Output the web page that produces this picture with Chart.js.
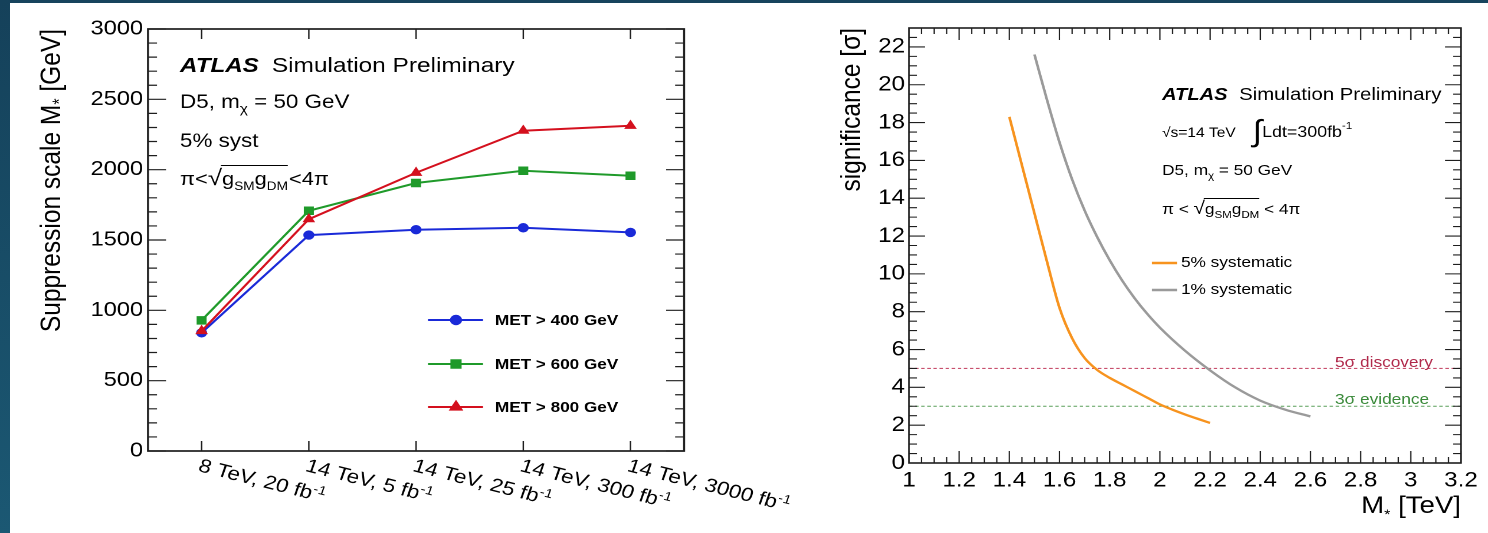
<!DOCTYPE html>
<html><head><meta charset="utf-8">
<script src="https://cdn.jsdelivr.net/npm/chart.js@4.4.1/dist/chart.umd.min.js"></script>
<style>
html,body{margin:0;padding:0;background:#fff;}
body{width:1488px;height:533px;overflow:hidden;position:relative;}
.wrap{position:absolute;top:0;height:533px;transform-origin:0 0;}
.band{position:absolute;z-index:5}
</style></head><body>
<div class="band" style="left:0;top:0;width:1488px;height:3px;background:#17445d"></div>
<div class="band" style="left:0;top:0;width:10px;height:533px;background:linear-gradient(#15415a,#1b5873)"></div>
<div id="wl" class="wrap"><canvas id="cl"></canvas></div>
<div id="wr" class="wrap"><canvas id="cr"></canvas></div>
<script>
// ---------------- data: left chart ----------------
const categories = ["8 TeV, 20 fb⁻¹", "14 TeV, 5 fb⁻¹", "14 TeV, 25 fb⁻¹", "14 TeV, 300 fb⁻¹", "14 TeV, 3000 fb⁻¹"];
const met400 = [840, 1535, 1573, 1587, 1554];
const met600 = [929, 1708, 1905, 1992, 1957];
const met800 = [853, 1648, 1978, 2277, 2312];
const seriesNames = ["MET > 400 GeV", "MET > 600 GeV", "MET > 800 GeV"];
const leftYMin = 0, leftYMax = 3000, leftYStep = 500, leftYMinor = 100;

// ---------------- data: right chart ----------------
const massSyst5 = [1.40, 1.45, 1.50, 1.55, 1.60, 1.65, 1.70, 1.75, 1.80, 1.85, 1.90, 1.95, 2.00, 2.05, 2.10, 2.15, 2.20];
const signifSyst5 = [18.3, 15.75, 13.2, 10.65, 8.2, 6.6, 5.55, 4.92, 4.5, 4.15, 3.8, 3.45, 3.1, 2.82, 2.57, 2.34, 2.12];
const massSyst1 = [1.50, 1.55, 1.60, 1.65, 1.70, 1.75, 1.80, 1.85, 1.90, 1.95, 2.00, 2.10, 2.20, 2.30, 2.40, 2.50, 2.60];
const signifSyst1 = [21.6, 19.2, 16.95, 15.0, 13.35, 11.95, 10.72, 9.64, 8.7, 7.88, 7.16, 5.94, 4.9, 4.0, 3.3, 2.82, 2.46];
const discoveryLevel = 5, evidenceLevel = 3;
const rightXMin = 1, rightXMax = 3.2, rightXStep = 0.2, rightXMinor = 0.05;
const rightYMin = 0, rightYMax = 23, rightYStep = 2, rightYMinor = 0.5;

// ---------------- layout helpers ----------------
const KL = 1.18, KR = 1.15;          // horizontal stretch of each picture
const LW = 820, RW = 728, H = 533;
const FONT = "'Liberation Sans', Arial, Helvetica, sans-serif";
const f = (s, st) => (st ? st + ' ' : '') + s + 'px ' + FONT;
const LX = X => X / KL;
const RX = X => (X - 760) / KR;

function drawRich(ctx, parts, x, y, align) {
  let total = 0;
  parts.forEach(p => { ctx.font = p.font; p.w = (p.gap || 0) + ctx.measureText(p.t).width; total += p.w; });
  let cx = align === 'right' ? x - total : (align === 'center' ? x - total / 2 : x);
  const pos = [];
  parts.forEach(p => {
    ctx.font = p.font;
    const sx = cx + (p.gap || 0);
    if (p.color) ctx.fillStyle = p.color;
    ctx.fillText(p.t, sx, y + (p.dy || 0));
    pos.push([sx, cx + p.w]);
    cx += p.w;
  });
  return pos;
}

function setupCanvas(wrapId, canvasId, left, w, k) {
  const wrap = document.getElementById(wrapId);
  wrap.style.left = left + 'px';
  wrap.style.width = (w / k) + 'px';
  wrap.style.transform = 'scaleX(' + k + ')';
  const c = document.getElementById(canvasId);
  c.width = Math.round(w / k); c.height = H;
  c.style.width = Math.round(w / k) + 'px'; c.style.height = H + 'px';
  return c;
}

// ---------------- left chart ----------------
const colors = ['#1a2ad8', '#1f9a2a', '#d4101e'];
const styles = ['circle', 'rect', 'triangle'];
const radii = [4.2, 5.3, 5.2];
const leftSeries = [met400, met600, met800];

const leftDecor = {
  id: 'leftDecor',
  afterDatasetsDraw(chart) {
    const {ctx, chartArea: a, scales: {x, y}} = chart;
    ctx.save();
    ctx.strokeStyle = '#1e1e1e';
    ctx.lineWidth = 1.2;
    ctx.beginPath();
    for (let v = leftYMin; v <= leftYMax; v += leftYMinor) {
      const py = y.getPixelForValue(v);
      const len = (v % leftYStep === 0 ? 18 : 9) / KL;
      ctx.moveTo(a.left, py); ctx.lineTo(a.left + len, py);
      ctx.moveTo(a.right, py); ctx.lineTo(a.right - len, py);
    }
    categories.forEach((c, i) => {
      const px = x.getPixelForValue(i);
      ctx.moveTo(px, a.bottom); ctx.lineTo(px, a.bottom - 10);
      ctx.moveTo(px, a.top); ctx.lineTo(px, a.top + 10);
    });
    ctx.stroke();
    ctx.lineWidth = 1.7;
    ctx.strokeRect(a.left, a.top, a.right - a.left, a.bottom - a.top);

    // category labels (rotated)
    ctx.fillStyle = '#000';
    ctx.textBaseline = 'alphabetic';
    const ang = Math.atan(0.25 * KL);
    categories.forEach((c, i) => {
      const px = x.getPixelForValue(i);
      ctx.save();
      ctx.translate(px + 0.5 / KL, 457);
      ctx.rotate(ang);
      drawRich(ctx, [{t: c.replace('⁻¹', ''), font: f(19)}, {t: '-1', font: f(12.5), dy: -7}], 0, 14.5, 'left');
      ctx.restore();
    });

    // legend
    const rows = [320, 364, 407];
    rows.forEach((ry, i) => {
      ctx.strokeStyle = colors[i]; ctx.fillStyle = colors[i]; ctx.lineWidth = 2;
      ctx.beginPath(); ctx.moveTo(LX(428), ry); ctx.lineTo(LX(483), ry); ctx.stroke();
      Chart.helpers.drawPoint(ctx, {pointStyle: styles[i], radius: radii[i], rotation: 0, borderWidth: 1}, LX(456), ry);
      ctx.fillStyle = '#000'; ctx.font = f(14.5, 'bold'); ctx.textBaseline = 'middle';
      ctx.fillText(seriesNames[i], LX(495), ry + 1);
    });

    // texts
    ctx.fillStyle = '#000'; ctx.textBaseline = 'alphabetic';
    drawRich(ctx, [{t: 'ATLAS', font: f(20.5, 'italic bold')}, {t: 'Simulation Preliminary', font: f(20.7), gap: 11}], LX(180), 72);
    drawRich(ctx, [{t: 'D5, m', font: f(19)}, {t: 'χ', font: f(13), dy: 5}, {t: ' = 50 GeV', font: f(19)}], LX(180), 108);
    drawRich(ctx, [{t: '5% syst', font: f(19)}], LX(180), 147);
    const p = drawRich(ctx, [{t: 'π<', font: f(18.5)}, {t: '√', font: f(22)}, {t: 'g', font: f(18.5)},
      {t: 'SM', font: f(11.5), dy: 5}, {t: 'g', font: f(18.5)}, {t: 'DM', font: f(11.5), dy: 5}, {t: '<4π', font: f(18.5), gap: 1}], LX(180), 185);
    ctx.strokeStyle = '#000'; ctx.lineWidth = 1;
    ctx.beginPath(); ctx.moveTo(p[1][1] - 1, 165.5); ctx.lineTo(p[5][1], 165.5); ctx.stroke();

    // y title
    ctx.save();
    ctx.translate(LX(52), 29); ctx.rotate(-Math.PI / 2);
    ctx.textBaseline = 'middle';
    drawRich(ctx, [{t: 'Suppression scale M', font: f(24.5)}, {t: '*', font: f(16), dy: 7}, {t: ' [GeV]', font: f(24.5)}], 0, 0, 'right');
    ctx.restore();
    ctx.restore();
  }
};

new Chart(setupCanvas('wl', 'cl', 0, LW, KL), {
  type: 'line',
  data: {
    labels: categories,
    datasets: leftSeries.map((d, i) => ({
      label: seriesNames[i], data: d, borderColor: colors[i], backgroundColor: colors[i],
      borderWidth: 2, pointStyle: styles[i], pointRadius: radii[i], pointBorderWidth: 1, tension: 0, clip: false
    })).reverse()
  },
  options: {
    responsive: false, animation: false, devicePixelRatio: 2, events: [],
    layout: {padding: {left: 0, top: 29, right: (LW - 684) / KL, bottom: 0}},
    plugins: {legend: {display: false}, tooltip: {enabled: false}},
    scales: {
      x: {type: 'category', offset: true, grid: {display: false, drawTicks: false}, border: {display: false},
          ticks: {display: false}, afterFit: s => { s.height = H - 451; }},
      y: {min: leftYMin, max: leftYMax, grid: {display: false, drawTicks: false}, border: {display: false},
          ticks: {stepSize: leftYStep, color: '#000', font: {family: FONT, size: 20}, padding: 5 / KL,
                  callback: v => String(v)},
          afterFit: s => { s.width = LX(148); }}
    }
  },
  plugins: [leftDecor]
});

// ---------------- right chart ----------------
const rightDecor = {
  id: 'rightDecor',
  afterDatasetsDraw(chart) {
    const {ctx, chartArea: a, scales: {x, y}} = chart;
    ctx.save();
    ctx.strokeStyle = '#1e1e1e';
    ctx.lineWidth = 1.1;
    ctx.beginPath();
    const nx = Math.round((rightXMax - rightXMin) / rightXMinor);
    const per = Math.round(rightXStep / rightXMinor);
    for (let k = 0; k <= nx; k++) {
      const px = x.getPixelForValue(rightXMin + k * rightXMinor);
      const len = k % per === 0 ? 12 : 6;
      ctx.moveTo(px, a.bottom); ctx.lineTo(px, a.bottom - len);
      ctx.moveTo(px, a.top); ctx.lineTo(px, a.top + len);
    }
    const ny = Math.round((rightYMax - rightYMin) / rightYMinor);
    const pery = Math.round(rightYStep / rightYMinor);
    for (let k = 0; k <= ny; k++) {
      const py = y.getPixelForValue(rightYMin + k * rightYMinor);
      const len = (k % pery === 0 ? 16 : 8) / KR;
      ctx.moveTo(a.left, py); ctx.lineTo(a.left + len, py);
      ctx.moveTo(a.right, py); ctx.lineTo(a.right - len, py);
    }
    ctx.stroke();
    ctx.lineWidth = 1.6;
    ctx.strokeRect(a.left, a.top, a.right - a.left, a.bottom - a.top);

    ctx.fillStyle = '#000'; ctx.textBaseline = 'alphabetic';
    drawRich(ctx, [{t: 'ATLAS', font: f(17.5, 'italic bold')}, {t: 'Simulation Preliminary', font: f(17.7), gap: 10}], RX(1162), 100);
    drawRich(ctx, [{t: '√s=14 TeV', font: f(13.5)}, {t: '∫', font: f(30), gap: (1250 - 1233) / KR, dy: 4}, {t: 'Ldt=300fb', font: f(15.5)}, {t: '-1', font: f(10), dy: -8}], RX(1162), 137);
    drawRich(ctx, [{t: 'D5, m', font: f(15)}, {t: 'χ', font: f(10), dy: 4}, {t: ' = 50 GeV', font: f(15)}], RX(1162), 175);
    const p = drawRich(ctx, [{t: 'π < ', font: f(15)}, {t: '√', font: f(18)}, {t: 'g', font: f(15)},
      {t: 'SM', font: f(10), dy: 4}, {t: 'g', font: f(15)}, {t: 'DM', font: f(10), dy: 4}, {t: ' < 4π', font: f(15)}], RX(1162), 214);
    ctx.strokeStyle = '#000'; ctx.lineWidth = 0.9;
    ctx.beginPath(); ctx.moveTo(p[1][1] - 1, 198.5); ctx.lineTo(p[5][1], 198.5); ctx.stroke();

    // legend
    const leg = [['5% systematic', '#f7931e', 263], ['1% systematic', '#9a9a9a', 290]];
    leg.forEach(([t, c, ly]) => {
      ctx.strokeStyle = c; ctx.lineWidth = 2.4;
      ctx.beginPath(); ctx.moveTo(RX(1152), ly); ctx.lineTo(RX(1177), ly); ctx.stroke();
      ctx.fillStyle = '#000'; ctx.font = f(15); ctx.textBaseline = 'middle';
      ctx.fillText(t, RX(1181), ly);
    });
    ctx.textBaseline = 'alphabetic';
    ctx.font = f(15);
    ctx.fillStyle = '#b0284a'; ctx.fillText('5σ discovery', RX(1335), 367);
    ctx.fillStyle = '#3a8a3a'; ctx.fillText('3σ evidence', RX(1335), 404);

    // axis titles
    ctx.fillStyle = '#000';
    drawRich(ctx, [{t: 'M', font: f(24)}, {t: '*', font: f(14), dy: 6}, {t: ' [TeV]', font: f(24)}], RX(1461), 513, 'right');
    ctx.save();
    ctx.translate(RX(852), 28); ctx.rotate(-Math.PI / 2);
    ctx.textBaseline = 'middle';
    drawRich(ctx, [{t: 'significance [σ]', font: f(24.5)}], 0, 0, 'right');
    ctx.restore();
    ctx.restore();
  }
};

const xy = (xs, ys) => xs.map((v, i) => ({x: v, y: ys[i]}));
new Chart(setupCanvas('wr', 'cr', 760, RW, KR), {
  type: 'line',
  data: {
    datasets: [
      {label: '5% systematic', data: xy(massSyst5, signifSyst5), borderColor: '#f7931e', borderWidth: 2.3, pointRadius: 0, cubicInterpolationMode: 'monotone'},
      {label: '1% systematic', data: xy(massSyst1, signifSyst1), borderColor: '#9a9a9a', borderWidth: 2.3, pointRadius: 0, cubicInterpolationMode: 'monotone'},
      {label: '5σ discovery', data: xy([rightXMin, rightXMax], [discoveryLevel, discoveryLevel]), borderColor: '#c8506e', borderWidth: 1.1, borderDash: [3, 2.3], pointRadius: 0},
      {label: '3σ evidence', data: xy([rightXMin, rightXMax], [evidenceLevel, evidenceLevel]), borderColor: '#5a9f5a', borderWidth: 1.1, borderDash: [3, 2.3], pointRadius: 0}
    ]
  },
  options: {
    responsive: false, animation: false, devicePixelRatio: 2, events: [],
    layout: {padding: {left: 0, top: 28, right: (1488 - 1461) / KR, bottom: 0}},
    plugins: {legend: {display: false}, tooltip: {enabled: false}},
    scales: {
      x: {type: 'linear', min: rightXMin, max: rightXMax, grid: {display: false, drawTicks: false}, border: {display: false},
          ticks: {stepSize: rightXStep, autoSkip: false, maxRotation: 0, color: '#000', font: {family: FONT, size: 21}, padding: 5,
                  callback: v => String(Math.round(v * 10) / 10)},
          afterFit: s => { s.height = H - 463; }},
      y: {min: rightYMin, max: rightYMax, grid: {display: false, drawTicks: false}, border: {display: false},
          ticks: {stepSize: rightYStep, includeBounds: false, color: '#000', font: {family: FONT, size: 21}, padding: 4 / KR,
                  callback: v => String(v)},
          afterFit: s => { s.width = RX(909); }}
    }
  },
  plugins: [rightDecor]
});
</script>
</body></html>
